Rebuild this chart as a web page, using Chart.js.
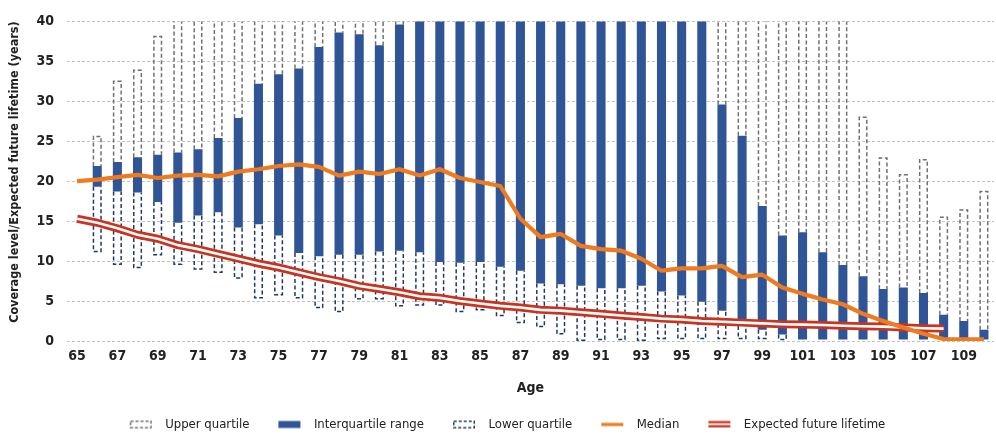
<!DOCTYPE html>
<html><head><meta charset="utf-8">
<style>html,body{margin:0;padding:0;background:#fff}#wrap{width:996px;height:438px}</style>
<script src="https://cdn.jsdelivr.net/npm/chart.js@4/dist/chart.umd.min.js"></script>
</head><body><div id="wrap"><canvas id="c" width="996" height="438"></canvas></div>
<script>
const ages = [65,66,67,68,69,70,71,72,73,74,75,76,77,78,79,80,81,82,83,84,85,86,87,88,89,90,91,92,93,94,95,96,97,98,99,100,101,102,103,104,105,106,107,108,109,110];
const shownTicks = [65,67,69,71,73,75,77,79,81,83,85,87,89,91,93,95,97,99,101,103,105,107,109];
const lowerBottom = [null,11.2,9.6,9.2,10.8,9.6,9.0,8.6,7.9,5.4,5.8,5.4,4.2,3.7,5.3,5.3,4.4,4.5,4.5,3.7,3.9,3.2,2.3,1.8,0.9,0.1,0.2,0.2,0.1,0.3,0.3,0.3,0.3,0.3,0.3,0.2,null,null,null,null,null,null,null,null,null,null];
const q1 = [null,19.3,18.7,18.6,17.4,14.8,15.7,16.1,14.2,14.6,13.2,11.0,10.6,10.8,10.8,11.2,11.3,11.1,9.9,9.8,9.9,9.3,8.8,7.2,7.1,6.9,6.6,6.6,6.9,6.2,5.7,4.9,3.8,2.7,1.4,0.8,0.2,0.2,0.2,0.2,0.2,0.2,0.2,0.2,0.2,0.2];
const q3 = [null,21.9,22.4,23.0,23.3,23.6,24.0,25.4,27.9,32.2,33.4,34.1,36.8,38.6,38.4,37.0,39.6,42,44,46,47,48,49,50,50,50,50,49,48,47,45,43,29.6,25.7,16.9,13.2,13.6,11.1,9.5,8.1,6.5,6.7,6.0,3.3,2.5,1.4];
const upperTop = [null,25.6,32.5,33.9,38.1,42,43,44,45,46,47,48,49,50,50,51,52,47,49,51,52,53,54,55,55,55,55,54,53,52,50,48,44,43,42,42,41,41,41,28.0,22.9,20.8,22.7,15.5,16.4,18.7];
const median = [20.0,20.2,20.5,20.8,20.4,20.7,20.8,20.6,21.2,21.5,21.9,22.1,21.8,20.7,21.2,20.9,21.5,20.7,21.5,20.4,19.9,19.4,15.3,13.0,13.4,11.9,11.5,11.3,10.3,8.8,9.1,9.1,9.4,8.0,8.3,6.7,5.9,5.2,4.6,3.4,2.5,1.7,0.9,0.25,0.2,0.2];
const lifetime = [15.3,14.8,14.1,13.3,12.8,12.0,11.5,10.9,10.3,9.7,9.2,8.6,8.0,7.5,6.9,6.5,6.1,5.6,5.4,5.0,4.7,4.4,4.2,3.9,3.8,3.6,3.4,3.2,3.0,2.8,2.7,2.5,2.4,2.3,2.2,2.1,2.05,2.0,1.9,1.85,1.8,1.7,1.6,1.55,null,null];
const seriesNames = ['Upper quartile','Interquartile range','Lower quartile','Median','Expected future lifetime'];

const FONT = "'DejaVu Sans Condensed','Liberation Sans Narrow',sans-serif";
const BLUE = '#2f5597', ORANGE = '#f07a1e', RED = '#c9331f', NAVY = '#1f3864', GREY = '#707070';

const pair = (a, b) => a.map((v, i) => (v == null || b[i] == null) ? null : [v, b[i]]);

function icon(kind) {
  const c = document.createElement('canvas');
  c.width = 50; c.height = 14;
  const g = c.getContext('2d');
  const x0 = 21, w = 22;
  if (kind === 'upper' || kind === 'lower') {
    g.strokeStyle = kind === 'upper' ? GREY : NAVY;
    g.lineWidth = 1.5; g.setLineDash([3, 2]);
    g.strokeRect(x0 + 0.75, 3.75, w - 1.5, 6.5);
  } else if (kind === 'iqr') {
    g.fillStyle = BLUE; g.fillRect(x0, 3.5, w, 7);
  } else if (kind === 'median') {
    g.fillStyle = ORANGE; g.fillRect(x0, 5.4, w, 3.2);
  } else {
    g.fillStyle = RED; g.fillRect(x0, 3.5, w, 2.3); g.fillRect(x0, 7.6, w, 2.3);
  }
  return c;
}
const icons = [icon('upper'), icon('iqr'), icon('lower'), icon('median'), icon('efl')];

const dashedBoxes = {
  id: 'dashedBoxes',
  afterDatasetDraw(chart, args) {
    const ds = chart.data.datasets[args.index];
    if (!ds.dashColor) return;
    const ctx = chart.ctx, a = chart.chartArea;
    ctx.save();
    ctx.beginPath(); ctx.rect(a.left, a.top, a.right - a.left, a.bottom - a.top); ctx.clip();
    ctx.strokeStyle = ds.dashColor; ctx.lineWidth = 1.5; ctx.setLineDash([4, 2.5]);
    args.meta.data.forEach((el, i) => {
      if (ds.data[i] == null) return;
      const p = el.getProps(['x', 'y', 'base', 'width'], true);
      const l = p.x - p.width / 2 + 0.75, r = p.x + p.width / 2 - 0.75;
      const top = Math.min(p.y, p.base), bot = Math.max(p.y, p.base);
      ctx.beginPath();
      if (ds.dashSide === 'bottom') { ctx.moveTo(l, top); ctx.lineTo(l, bot); ctx.lineTo(r, bot); ctx.lineTo(r, top); }
      else { ctx.moveTo(l, bot); ctx.lineTo(l, top); ctx.lineTo(r, top); ctx.lineTo(r, bot); }
      ctx.stroke();
    });
    ctx.restore();
  }
};

const barCommon = { type: 'bar', grouped: false, barPercentage: 0.45, categoryPercentage: 1 };
new Chart(document.getElementById('c'), {
  data: {
    labels: ages,
    datasets: [
      Object.assign({ label: seriesNames[0], data: pair(q3, upperTop), backgroundColor: 'rgba(0,0,0,0)', borderWidth: 0, dashColor: GREY, dashSide: 'top', order: 6 }, barCommon),
      Object.assign({ label: seriesNames[2], data: pair(lowerBottom, q1), backgroundColor: 'rgba(0,0,0,0)', borderWidth: 0, dashColor: NAVY, dashSide: 'bottom', order: 5 }, barCommon),
      Object.assign({ label: seriesNames[1], data: pair(q1, q3), backgroundColor: BLUE, borderWidth: 0, order: 4 }, barCommon),
      { type: 'line', label: seriesNames[4], data: lifetime, borderColor: RED, borderWidth: 8, pointRadius: 0, tension: 0, order: 3, borderJoinStyle: 'round' },
      { type: 'line', label: 'lifetime-core', data: lifetime, borderColor: '#ffffff', borderWidth: 2.6, pointRadius: 0, tension: 0, order: 2, borderJoinStyle: 'round' },
      { type: 'line', label: seriesNames[3], data: median, borderColor: ORANGE, borderWidth: 4.2, pointRadius: 0, tension: 0, order: 1, borderJoinStyle: 'round' }
    ]
  },
  options: {
    responsive: false, animation: false, devicePixelRatio: 1,
    layout: { padding: { top: 15, right: 2, bottom: -3, left: 0 } },
    plugins: {
      tooltip: { enabled: false },
      legend: {
        position: 'bottom',
        labels: {
          usePointStyle: true, pointStyleWidth: 50, padding: 8, color: '#222',
          font: { family: FONT, size: 13 },
          generateLabels: () => seriesNames.map((t, i) => ({ text: t, pointStyle: icons[i], fillStyle: 'rgba(0,0,0,0)', strokeStyle: 'rgba(0,0,0,0)', lineWidth: 0, hidden: false, fontColor: '#222' }))
        }
      }
    },
    scales: {
      x: {
        grid: { display: false, drawTicks: false },
        border: { display: false },
        ticks: { autoSkip: false, maxRotation: 0, padding: 7, color: '#222', font: { family: FONT, size: 14, weight: 'bold' },
          callback: function (v, i) { const a = ages[i]; return shownTicks.includes(a) ? String(a) : ''; } },
        title: { display: true, text: 'Age', color: '#222', font: { family: FONT, size: 14, weight: 'bold' }, padding: { top: 0, bottom: 13 } },
        afterFit: s => { s.height = 69; }
      },
      y: {
        min: 0, max: 40,
        grid: { color: '#c4c4c4', lineWidth: 1, drawTicks: false },
        border: { display: false, dash: [3, 2] },
        ticks: { stepSize: 5, padding: 13, color: '#222', font: { family: FONT, size: 14, weight: 'bold' } },
        title: { display: true, align: 'end', text: 'Coverage level/Expected future lifetime (years)', color: '#222', font: { family: FONT, size: 12.5, weight: 'bold' }, padding: { top: 7, bottom: 0 } },
        afterFit: s => { s.width = 67; }
      }
    }
  },
  plugins: [dashedBoxes]
});
</script></body></html>
